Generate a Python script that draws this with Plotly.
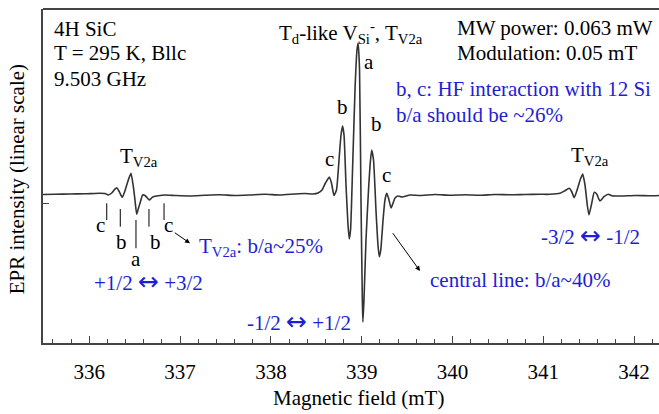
import plotly.graph_objects as go

# ---- data (field in mT, EPR intensity in arbitrary units) ----
field_mT = [
    335.490, 335.622, 335.787, 335.953, 336.118, 336.173, 336.209, 336.247, 336.278, 336.302,
    336.330, 336.363, 336.388, 336.412, 336.437, 336.459, 336.485, 336.503, 336.522, 336.542,
    336.558, 336.588, 336.613, 336.635, 336.661, 336.685, 336.705, 336.760, 336.834, 336.944,
    337.109, 337.274, 337.439, 337.605, 337.770, 337.935, 338.100, 338.265, 338.375, 338.464,
    338.519, 338.563, 338.601, 338.643, 338.667, 338.695, 338.722, 338.750, 338.772, 338.789,
    338.805, 338.827, 338.849, 338.863, 338.877, 338.899, 338.926, 338.948, 338.961, 338.976,
    338.992, 339.007, 339.013, 339.025, 339.047, 339.075, 339.097, 339.110, 339.130, 339.157,
    339.179, 339.194, 339.210, 339.235, 339.256, 339.275, 339.295, 339.323, 339.345, 339.367,
    339.400, 339.444, 339.532, 339.642, 339.807, 339.972, 340.137, 340.302, 340.468, 340.633,
    340.798, 340.963, 341.073, 341.183, 341.238, 341.286, 341.312, 341.341, 341.378, 341.409,
    341.434, 341.459, 341.484, 341.503, 341.533, 341.561, 341.588, 341.624, 341.668, 341.716,
    341.753, 341.845, 342.010, 342.175, 342.274,
]
intensity = [
    -0.5, -0.3, 0.0, 0.2, 0.7, 0.5, -1.0, 1.0, 4.5, 6.3,
    2.3, -3.3, 2.0, 9.0, 16.0, 20.7, 7.3, -6.0, -20.3, -14.0,
    -9.3, -1.0, -1.5, -3.5, -6.0, -4.0, -2.7, -1.7, -1.0, -1.5,
    -2.0, -1.3, -0.8, -1.5, -1.0, -0.3, -1.0, 0.0, 0.5, 0.0,
    1.0, 4.0, 11.0, 17.0, 11.0, -1.5, 4.0, 34.0, 59.0, 68.0,
    59.0, 9.0, -31.0, -45.0, -36.0, 24.0, 104.0, 144.0, 151.0, 124.0,
    -6.0, -106.0, -128.0, -106.0, -46.0, 4.0, 34.0, 44.0, 34.0, -16.0,
    -51.0, -62.7, -56.0, -26.0, -6.0, 0.7, -4.0, -14.0, -9.0, -4.0,
    -2.0, -3.0, -1.0, -1.5, -0.5, -1.3, -0.8, -1.3, -0.5, -0.8,
    -0.5, -0.3, -0.3, 0.7, 3.3, 5.7, 2.5, -3.7, 5.7, 15.0,
    20.0, 9.0, -11.0, -21.0, -9.3, 1.7, 0.0, -7.0, -2.7, -0.3,
    -1.7, -2.0, -1.5, -1.8, -1.5,
]

# hyperfine stick markers under the low-field T_V2a line
stick_labels = ["c", "b", "a", "b", "c"]
stick_field = [336.192, 336.341, 336.514, 336.657, 336.823]
stick_top = [-9.3, -15.0, -26.0, -15.0, -9.3]
stick_bottom = [-26.0, -32.7, -54.3, -32.7, -26.0]

x_ticks = [336, 337, 338, 339, 340, 341, 342]
x_range = [335.490, 342.274]
y_range = [-149, 185]

BLUE = "#1e1ed4"
FONT = "Liberation Serif, Times New Roman, serif"
FS = 21
ARROW = '<span style="font-family:DejaVu Sans;font-size:25px">\u2194</span>'

fig = go.Figure()
fig.add_trace(go.Scatter(
    x=field_mT, y=intensity, mode="lines",
    line=dict(color="#333333", width=1.6, shape="spline", smoothing=0.5),
    hoverinfo="skip", showlegend=False,
))

shapes = []
for xf, yt, yb in zip(stick_field, stick_top, stick_bottom):
    shapes.append(dict(type="line", xref="x", yref="y", x0=xf, x1=xf, y0=yt, y1=yb,
                       line=dict(color="black", width=1)))
# top frame line (right side is cut in the original)
shapes.append(dict(type="line", xref="paper", yref="paper", x0=0, x1=1, y0=1, y1=1,
                   line=dict(color="#444444", width=2)))

ann = []
def txt(x, y, t, color="black", xanchor="left", yanchor="middle", **kw):
    ann.append(dict(x=x, y=y, xref="x", yref="y", text=t, showarrow=False,
                    xanchor=xanchor, yanchor=yanchor,
                    font=dict(family=FONT, size=FS, color=color), **kw))

txt(335.586, 164.7, "4H SiC")
txt(335.586, 140.7, "T = 295 K, Bllc")
txt(335.586, 114.7, "9.503 GHz")
txt(338.067, 162.0, "T<sub>d</sub>-like V<sub>Si</sub><sup>-</sup>, T<sub>V2a</sub>")
txt(340.027, 165.7, "MW power: 0.063 mW")
txt(340.027, 140.7, "Modulation: 0.05 mT")
txt(339.359, 104.7, "b, c: HF interaction with 12 Si", color=BLUE)
txt(339.359, 79.0, "b/a should be ~26%", color=BLUE)
txt(336.319, 37.0, "T<sub>V2a</sub>")
txt(341.286, 38.0, "T<sub>V2a</sub>")
txt(339.080, 132.3, "a", xanchor="center")
txt(338.786, 87.3, "b", xanchor="center")
txt(339.165, 70.0, "b", xanchor="center")
txt(338.643, 34.7, "c", xanchor="center")
txt(339.268, 19.0, "c", xanchor="center")
for xf, yv, lab in zip([336.121, 336.357, 336.511, 336.731, 336.870],
                       [-31.0, -47.7, -65.0, -47.7, -31.0], stick_labels):
    txt(xf, yv, lab, xanchor="center")
txt(337.183, -53.0, "T<sub>V2a</sub>: b/a~25%", color=BLUE)
txt(336.033, -87.7, "+1/2 " + ARROW + " +3/2", color=BLUE)
txt(337.715, -127.0, "-1/2 " + ARROW + " +1/2", color=BLUE)
txt(340.956, -41.0, "-3/2 " + ARROW + " -1/2", color=BLUE)
txt(339.727, -86.0, "central line: b/a~40%", color=BLUE)

# arrows
ann.append(dict(x=337.109, y=-49.3, xref="x", yref="y", ax=-16.7, ay=-11.6, text="",
                showarrow=True, arrowhead=2, arrowsize=1, arrowwidth=1, arrowcolor="black"))
ann.append(dict(x=339.642, y=-77.0, xref="x", yref="y", ax=-28.3, ay=-39.3, text="",
                showarrow=True, arrowhead=2, arrowsize=1, arrowwidth=1, arrowcolor="black"))

# axis titles
ann.append(dict(x=338.970, xref="x", y=-0.165, yref="paper", text="Magnetic field (mT)",
                showarrow=False, xanchor="center", yanchor="middle",
                font=dict(family=FONT, size=FS, color="black")))
ann.append(dict(x=-0.0417, xref="paper", y=0.491, yref="paper", text="EPR intensity (linear scale)",
                showarrow=False, xanchor="center", yanchor="middle", textangle=-90,
                font=dict(family=FONT, size=FS, color="black")))

fig.update_layout(
    width=659, height=414,
    margin=dict(l=43, r=0, t=9, b=71),
    paper_bgcolor="white", plot_bgcolor="white",
    shapes=shapes, annotations=ann,
    font=dict(family=FONT, size=FS, color="black"),
)
fig.update_xaxes(
    range=x_range, tickvals=x_ticks, ticktext=[str(v) for v in x_ticks],
    ticks="inside", ticklen=7, tickwidth=1, tickcolor="#444444",
    minor=dict(dtick=0.2, ticks="inside", ticklen=4, tickwidth=1, tickcolor="#444444"),
    showline=True, linecolor="#444444", linewidth=2, mirror=False,
    showgrid=False, zeroline=False, ticklabelstandoff=9,
    tickfont=dict(family=FONT, size=FS, color="black"),
)
fig.update_yaxes(
    range=y_range, tickvals=[-9], ticktext=[""], ticks="inside", ticklen=6,
    tickcolor="#444444", showline=True, linecolor="#444444", linewidth=2,
    showgrid=False, zeroline=False,
)

fig.write_html("out.html", config={"displayModeBar": False},
               post_script="document.body.style.margin='0';document.body.style.overflow='hidden';")
